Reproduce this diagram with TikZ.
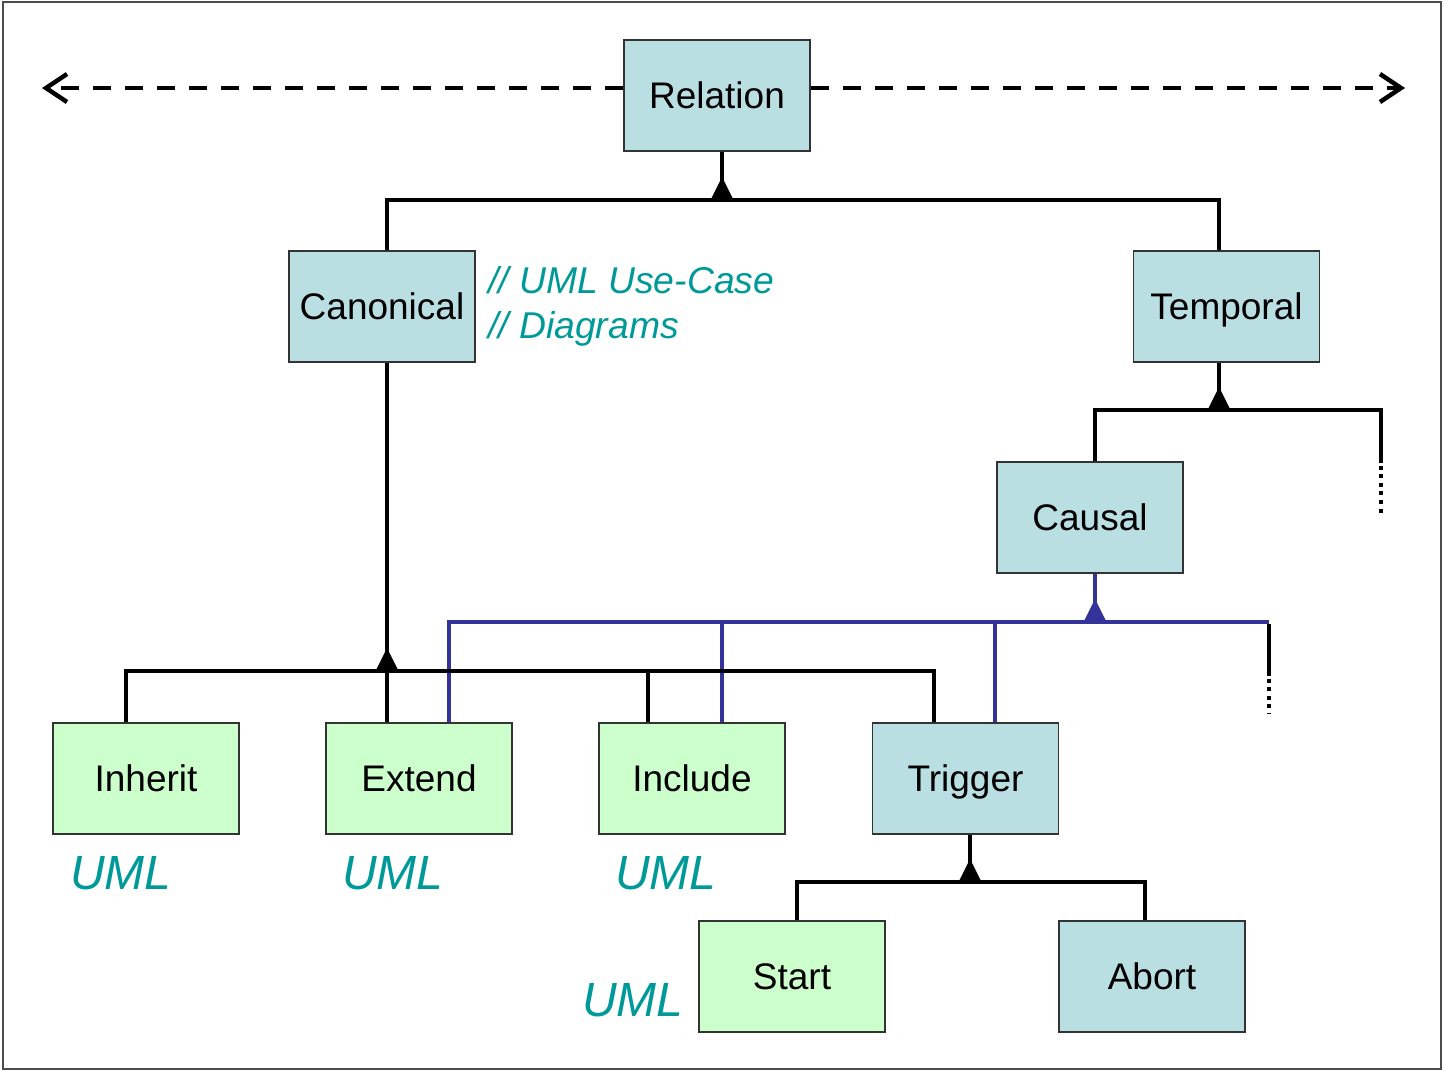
\documentclass[tikz,border=0pt]{standalone}
\usepackage{fontspec}
\setmainfont{Liberation Sans}
\usetikzlibrary{arrows.meta}
\definecolor{boxblue}{HTML}{B9DFE3}
\definecolor{boxgreen}{HTML}{CCFFCC}
\definecolor{umlteal}{HTML}{009999}
\definecolor{causalblue}{HTML}{333399}
\tikzset{
  box/.style={draw=black!80, line width=1.6pt, minimum width=186pt, minimum height=111pt,
    inner sep=0pt, text height=26.5pt, text depth=0pt, font=\fontsize{37}{40}\selectfont},
  tbox/.style={box, fill=boxblue},
  gbox/.style={box, fill=boxgreen},
  link/.style={line width=4.5pt, black},
  blink/.style={line width=3.5pt, causalblue},
  more/.style={line width=4.5pt, black, dash pattern=on 4pt off 4.6pt},
  uml/.style={text=umlteal, font=\fontsize{48}{50}\selectfont\itshape, inner sep=0pt},
  note/.style={text=umlteal, font=\fontsize{37.3}{45}\selectfont\itshape, inner sep=0pt, align=left},
  openend/.style={line width=4pt, dash pattern=on 18pt off 14pt,
    -{Straight Barb[length=21pt,width=28pt,line width=4.5pt]}},
}
\newcommand{\fork}[3]{\fill[#3] (#1-11.5,#2) -- (#1,#2-23) -- (#1+11.5,#2) -- cycle;}
\begin{document}
\begin{tikzpicture}[x=1pt,y=-1pt]
\useasboundingbox (0,0) rectangle (1444,1071);
\draw[black!70, line width=1.5pt] (3,2) rectangle (1441,1069);

% class boxes
\node[tbox] (rel) at (717,95.5) {Relation};
\node[tbox] (can) at (382,306.5) {Canonical};
\node[tbox] (tem) at (1226.5,306.5) {Temporal};
\node[tbox] (cau) at (1090,517.5) {Causal};
\node[gbox] (inh) at (146,778.5) {Inherit};
\node[gbox] (ext) at (419,778.5) {Extend};
\node[gbox] (inc) at (692,778.5) {Include};
\node[tbox] (tri) at (965.5,778.5) {Trigger};
\node[gbox] (sta) at (792,976.5) {Start};
\node[tbox] (abo) at (1152,976.5) {Abort};

% annotations
\node[note, anchor=north west] (cmt) at (488,266) {// UML Use-Case\\// Diagrams};
\node[uml] (u1) at (121,873) {UML};
\node[uml] (u2) at (393,873) {UML};
\node[uml] (u3) at (666,873) {UML};
\node[uml] (u4) at (633,1000) {UML};

% open-ended relation arrows
\coordinate (lend) at (42,88);
\coordinate (rend) at (1405,88);
\draw[openend] (rel.west |- lend) -- (lend);
\draw[openend] (rel.east |- rend) -- (rend);

% Relation -> Canonical, Temporal
\coordinate (b1) at (722,200);
\draw[link] ([xshift=5pt]rel.south) -- (b1);
\draw[link] ([xshift=5pt]can.north) |- (b1) -| ([xshift=-7.5pt]tem.north);
\fork{722}{200}{black}

% Temporal -> Causal, ...
\coordinate (b2) at (1219,410);
\coordinate (t2) at (1381,463);
\draw[link] ([xshift=-7.5pt]tem.south) -- (b2);
\draw[link] ([xshift=5pt]cau.north) |- (b2) -| (t2);
\draw[more] ([yshift=6pt]t2) -- ++(0,60);
\fork{1219}{410}{black}

% Causal -> Extend, Include, Trigger, ...
\coordinate (b4) at (1095,622);
\coordinate (c4) at (1269,622);
\coordinate (t4) at (1269,676);
\draw[blink] ([xshift=5pt]cau.south) -- (b4);
\draw[blink] ([xshift=30pt]ext.north) |- (c4);
\draw[blink] ([xshift=30pt]inc.north) -- ++(0,-101);
\draw[blink] ([xshift=29.5pt]tri.north) -- ++(0,-101);
\draw[link] ([yshift=-1.75pt]c4) -- (t4);
\draw[more] ([yshift=6pt]t4) -- ++(0,44);
\fork{1095}{622}{causalblue}

% Canonical -> Inherit, Extend, Include, Trigger
\coordinate (b3) at (387,671);
\draw[link] ([xshift=5pt]can.south) -- ([xshift=-32pt]ext.north);
\draw[link] ([xshift=-20pt]inh.north) |- (b3) -| ([xshift=-31.5pt]tri.north);
\draw[link] ([xshift=-44pt]inc.north) -- ++(0,-52);
\fork{387}{671}{black}

% Trigger -> Start, Abort
\coordinate (b5) at (970,882);
\draw[link] ([xshift=4.5pt]tri.south) -- (b5);
\draw[link] ([xshift=5pt]sta.north) |- (b5) -| ([xshift=-7pt]abo.north);
\fork{970}{882}{black}
\end{tikzpicture}
\end{document}
